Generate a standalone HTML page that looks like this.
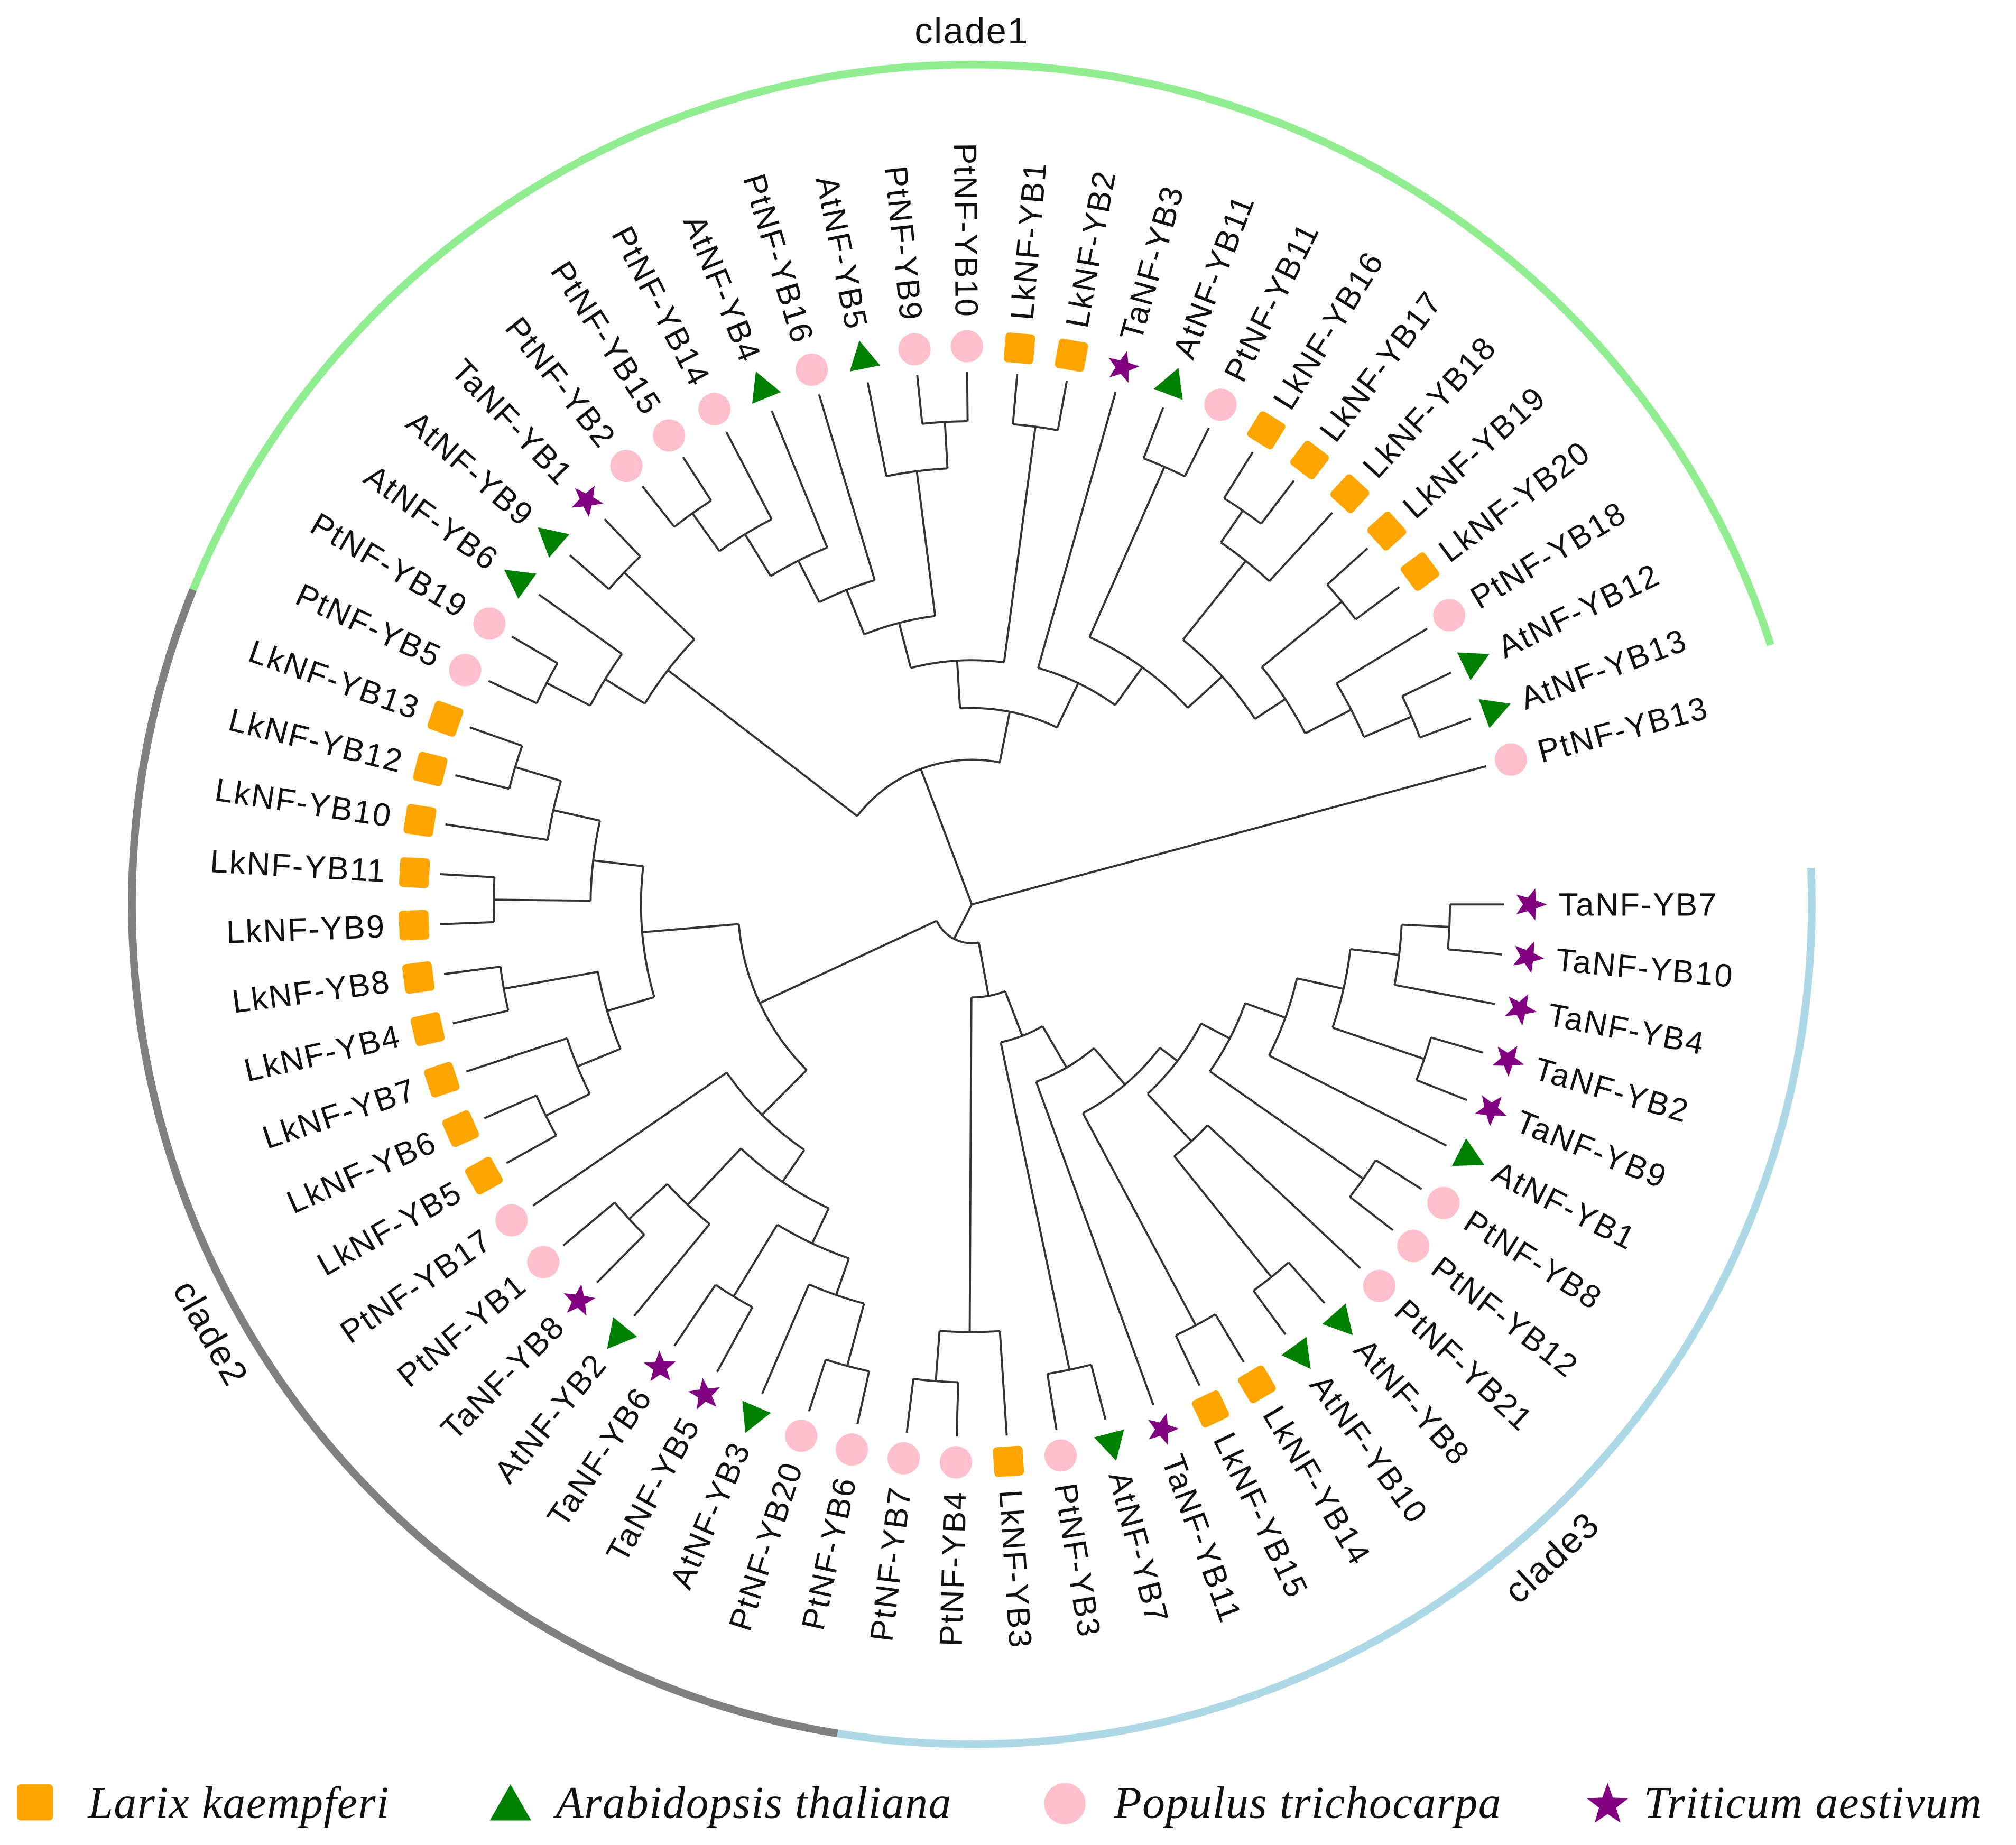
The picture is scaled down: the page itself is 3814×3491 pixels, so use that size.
<!DOCTYPE html>
<html><head><meta charset="utf-8"><title>NF-YB phylogenetic tree</title>
<style>
html,body{margin:0;padding:0;background:#fff;}
svg{display:block;}
</style></head>
<body>
<svg id="chart" xmlns="http://www.w3.org/2000/svg" width="3814" height="3491" viewBox="0 0 1560 1428">
<rect x="0" y="0" width="1560" height="1428" fill="#fff"/>
<g id="clades"></g>
<g id="branches" fill="none" stroke="#333" stroke-width="1.6"></g>
<g id="markers"></g>
<g id="labels" font-family="Liberation Sans, Arial, sans-serif" font-size="25" letter-spacing="1" fill="#111"></g>
<g id="legend" font-family="Liberation Serif, serif" font-style="italic" font-size="35" letter-spacing="0.6" fill="#111"></g>
</svg>
<script>
// ---- data ----
const leafNames = ["TaNF-YB7","TaNF-YB10","TaNF-YB4","TaNF-YB2","TaNF-YB9","AtNF-YB1","PtNF-YB8","PtNF-YB12","PtNF-YB21","AtNF-YB8","AtNF-YB10","LkNF-YB14","LkNF-YB15","TaNF-YB11","AtNF-YB7","PtNF-YB3","LkNF-YB3",
"PtNF-YB4","PtNF-YB7","PtNF-YB6","PtNF-YB20","AtNF-YB3","TaNF-YB5","TaNF-YB6","AtNF-YB2","TaNF-YB8","PtNF-YB1","PtNF-YB17","LkNF-YB5","LkNF-YB6","LkNF-YB7","LkNF-YB4","LkNF-YB8","LkNF-YB9","LkNF-YB11","LkNF-YB10","LkNF-YB12","LkNF-YB13",
"PtNF-YB5","PtNF-YB19","AtNF-YB6","AtNF-YB9","TaNF-YB1","PtNF-YB2","PtNF-YB15","PtNF-YB14","AtNF-YB4","PtNF-YB16","AtNF-YB5","PtNF-YB9","PtNF-YB10","LkNF-YB1","LkNF-YB2","TaNF-YB3","AtNF-YB11","PtNF-YB11","LkNF-YB16","LkNF-YB17","LkNF-YB18","LkNF-YB19","LkNF-YB20","PtNF-YB18","AtNF-YB12","AtNF-YB13","PtNF-YB13"];
// tree: [nodeRadius, child, child...]; numbers are leaf indices
const clade3Tree = [72, [331,[370,18,17],16], [109,[368,15,14],[146,13,[183,[369,12,11],[200,[225,[258,[295,[333,[370,0,1],2],[370,3,4]],5],[370,6,7]],[250,8,[370,9,10]]]]]]];
const clade2Tree = [181, [256,[295,[332,[369,37,36],35],[370,34,33]],[294,[368,32,31],[330,30,[368,29,28]]]], [230,27,[260,[320,[360,26,25],24],[290,[355,23,22],[320,21,[370,20,19]]]]]];
const clade1Tree = [112, [297,[333,[371,38,39],40],[372,41,42]], [152,[189,[225,[262,[298,[336,[372,43,44],45],46],47],[338,48,[374,49,50]]],[373,51,52]],[190,53,[226,[370,54,55],[262,[300,[340,[370,56,57],58]],[290,[370,59,60],[330,61,[370,62,63]]]]]]]];
const rootTree = [0, 64, clade1Tree, [30, clade2Tree, clade3Tree]];
const cladeNames = ["clade1","clade2","clade3"];
const cladeStart = [202, 99.2, -2.5];
const cladeEnd = [342, 202, 99.2];
const legendNames = ["Larix kaempferi","Arabidopsis thaliana","Populus trichocarpa","Triticum aestivum"];

// ---- layout constants ----
const CX=752, CY=700, STEP=5.39, START=0, LEAF_R=412, MARK_R=432, LABEL_R=454;
const NS="http://www.w3.org/2000/svg";
const colors={Lk:"#FFA500",At:"#008000",Pt:"#FFC0CB",Ta:"#800080"};
function rad(a){return a*Math.PI/180;}
function pt(r,a){return [CX+r*Math.cos(rad(a)), CY+r*Math.sin(rad(a))];}
function angOf(i){return START+i*STEP;}
function mk(tag,attrs,parent){const e=document.createElementNS(NS,tag);for(const k in attrs)e.setAttribute(k,attrs[k]);parent.appendChild(e);return e;}
function arcPath(r,a1,a2){const p1=pt(r,a1),p2=pt(r,a2);const large=(a2-a1)>180?1:0;return `M${p1[0].toFixed(2)},${p1[1].toFixed(2)} A${r},${r} 0 ${large} 1 ${p2[0].toFixed(2)},${p2[1].toFixed(2)}`;}

const gB=document.getElementById('branches');
function layout(node){
  if(typeof node==='number') return {a:angOf(node), r:LEAF_R};
  const r=node[0];
  const kids=node.slice(1).map(layout);
  let mn=Math.min(...kids.map(k=>k.a)), mx=Math.max(...kids.map(k=>k.a));
  if(r>0){
    const p=mk('path',{d:arcPath(r,mn,mx)},gB);
    
    
  }
  kids.forEach(k=>{
    const p1=pt(r,k.a),p2=pt(k.r,k.a);
    const l=mk('line',{x1:p1[0].toFixed(2),y1:p1[1].toFixed(2),x2:p2[0].toFixed(2),y2:p2[1].toFixed(2)},gB);
    
    
  });
  return {a:(mn+mx)/2, r:r};
}
layout(rootTree);

// markers & labels
const gM=document.getElementById('markers'), gL=document.getElementById('labels');
function starPts(R,ri){let s=[];for(let i=0;i<10;i++){const rr=i%2?ri:R;const a=-90+i*36;s.push((rr*Math.cos(rad(a))).toFixed(2)+','+(rr*Math.sin(rad(a))).toFixed(2));}return s.join(' ');}
function drawMarker(sp,x,y,rot,parent){
  let e;
  if(sp==='Lk') e=mk('rect',{x:-11.5,y:-11.5,width:23,height:23,rx:3,fill:colors.Lk,transform:`translate(${x},${y}) rotate(${rot})`},parent);
  else if(sp==='At') e=mk('polygon',{points:'0,-13 12,9 -12,9',fill:colors.At,transform:`translate(${x},${y}) rotate(${rot+90})`},parent);
  else if(sp==='Pt') e=mk('circle',{cx:x,cy:y,r:12.5,fill:colors.Pt},parent);
  else e=mk('polygon',{points:starPts(13,5.5),fill:colors.Ta,transform:`translate(${x},${y}) rotate(${rot+90})`},parent);
  return e;
}
leafNames.forEach((nm,i)=>{
  const a=angOf(i), sp=nm.slice(0,2);
  const m=pt(MARK_R,a);
  const e=drawMarker(sp,m[0].toFixed(2),m[1].toFixed(2),a,gM);
  
  
  const p=pt(LABEL_R,a);
  const norm=((a%360)+360)%360;
  const flip=norm>90&&norm<270;
  const t=mk('text',{x:0,y:0,'dominant-baseline':'central','text-anchor':flip?'end':'start',transform:`translate(${p[0].toFixed(2)},${p[1].toFixed(2)}) rotate(${flip?a-180:a})`},gL);
  t.textContent=nm;
  
  
});

// clade arcs
const gC=document.getElementById('clades');
const cladeColors=["#90EE90","#808080","#ADD8E6"];
const cladeR=650;
cladeNames.forEach((c,i)=>{
  const p=mk('path',{d:arcPath(cladeR,cladeStart[i],cladeEnd[i]),fill:'none',stroke:cladeColors[i],'stroke-width':6},gC);
  
  
});
const cladeLabelAng=[270,150.6,48.4];
const cladeLabelRot=[0,60.6,-43];
cladeNames.forEach((c,i)=>{
  const p=pt(676,cladeLabelAng[i]);
  const t=mk('text',{x:0,y:0,'text-anchor':'middle','dominant-baseline':'central','font-family':'Liberation Sans, Arial, sans-serif','font-size':28,'letter-spacing':1,fill:'#111',transform:`translate(${p[0].toFixed(2)},${p[1].toFixed(2)}) rotate(${cladeLabelRot[i]})`},gC);
  t.textContent=c;
  
  
});

// legend
const gLe=document.getElementById('legend');
const legSp=['Lk','At','Pt','Ta'];
const legMX=[27,395,824,1244];
const legTX=[68,430,862,1272];
legendNames.forEach((n,i)=>{
  const g=mk('g',{},gLe);
  
  
  let e;
  if(legSp[i]==='Lk') e=mk('rect',{x:legMX[i]-14,y:1381,width:28,height:28,rx:3,fill:colors.Lk},g);
  else if(legSp[i]==='At') e=mk('polygon',{points:`${legMX[i]},1381 ${legMX[i]+16},1409 ${legMX[i]-16},1409`,fill:colors.At},g);
  else if(legSp[i]==='Pt') e=mk('circle',{cx:legMX[i],cy:1396,r:16,fill:colors.Pt},g);
  else e=mk('polygon',{points:starPts(17,7),fill:colors.Ta,transform:`translate(${legMX[i]},1397)`},g);
  
  
  const t=mk('text',{x:legTX[i],y:1407},g);
  t.textContent=n;
  
  
});
</script>
</body></html>
